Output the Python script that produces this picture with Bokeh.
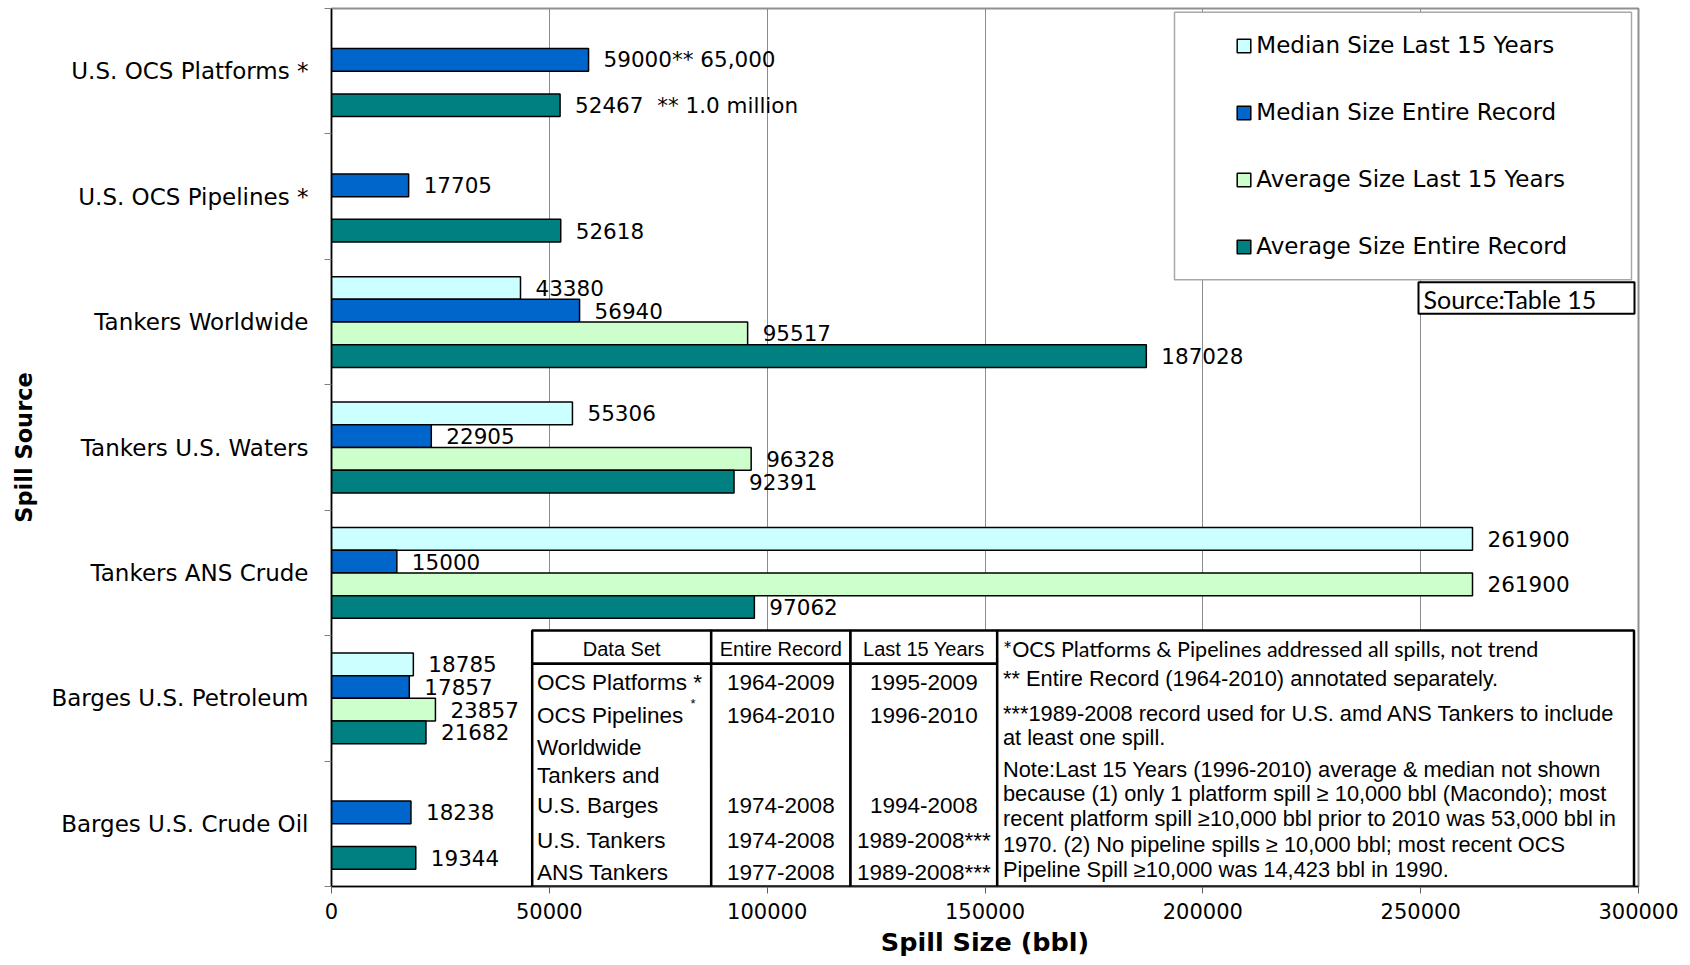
from bokeh.plotting import figure
from bokeh.models import (Range1d, FixedTicker, BasicTickFormatter, ColumnDataSource,
                          Legend, LegendItem, BoxAnnotation, Label)
from bokeh.transform import dodge
from bokeh.core.properties import value
from bokeh.embed import file_html
from bokeh.resources import INLINE

# ------------------------------------------------------------------ data
sources = ["U.S. OCS Platforms *", "U.S. OCS Pipelines *", "Tankers Worldwide",
           "Tankers U.S. Waters", "Tankers ANS Crude", "Barges U.S. Petroleum",
           "Barges U.S. Crude Oil"]
series_names = ["Median Size Last 15 Years", "Median Size Entire Record",
                "Average Size Last 15 Years", "Average Size Entire Record"]
median_last15 = [None, None, 43380, 55306, 261900, 18785, None]
median_entire = [59000, 17705, 56940, 22905, 15000, 17857, 18238]
average_last15 = [None, None, 95517, 96328, 261900, 23857, None]
average_entire = [52467, 52618, 187028, 92391, 97062, 21682, 19344]
# entire record (1964-2010) annotated separately
median_entire_notes = ["** 65,000", "", "", "", "", "", ""]
average_entire_notes = ["** 1.0 million", "", "", "", "", "", ""]
x_ticks = [0, 50000, 100000, 150000, 200000, 250000, 300000]

table_header = ["Data Set", "Entire Record", "Last 15 Years"]
table_dataset = ["OCS Platforms *", "OCS Pipelines", "Worldwide", "Tankers and",
                 "U.S. Barges", "U.S. Tankers", "ANS Tankers"]
table_entire = ["1964-2009", "1964-2010", "", "", "1974-2008", "1974-2008", "1977-2008"]
table_last15 = ["1995-2009", "1996-2010", "", "", "1994-2008", "1989-2008***", "1989-2008***"]
notes_lines = [
    "*OCS Platforms & Pipelines addressed all spills, not trend",
    "** Entire Record (1964-2010) annotated separately.",
    "***1989-2008 record used for U.S. amd ANS Tankers to include",
    "at least one spill.",
    "Note:Last 15 Years (1996-2010) average & median not shown",
    "because (1) only 1 platform spill \u2265 10,000 bbl (Macondo); most",
    "recent platform spill \u226510,000 bbl prior to 2010 was 53,000 bbl in",
    "1970. (2) No pipeline spills \u2265 10,000 bbl; most recent OCS",
    "Pipeline Spill \u226510,000 was 14,423 bbl in 1990.",
]
source_note = "Source:Table 15"

# ------------------------------------------------------------------ layout
FL, FT, FW, FH = 331, 8, 1307, 878
X0, Y0 = FL, FT
X1, Y1 = X0 + FW, Y0 + FH
XMAX = x_ticks[-1]
NC = len(sources)


def xd(px):
    return (px - X0) / FW * XMAX


def yd(py):
    return (Y1 - py) / FH * NC


SANS = "DejaVu Sans"
ARIAL = "Liberation Sans"
CAL = "Lato"

p = figure(frame_width=FW, frame_height=FH,
           x_range=Range1d(0, XMAX), y_range=Range1d(0, NC),
           min_border_left=FL, min_border_right=44, min_border_top=FT,
           min_border_bottom=78, output_backend="svg", toolbar_location=None,
           tools="")
p.outline_line_color = "#909090"
p.outline_line_width = 2
p.background_fill_color = "white"
p.border_fill_color = "white"

# axes
xa = p.xaxis[0]
xa.ticker = FixedTicker(ticks=x_ticks, minor_ticks=[])
xa.formatter = BasicTickFormatter(use_scientific=False)
xa.axis_line_color = "black"
xa.axis_line_width = 1.5
xa.major_tick_out = 7
xa.major_tick_in = 0
xa.major_tick_line_color = "#606060"
xa.minor_tick_line_color = None
xa.major_label_text_font = SANS
xa.major_label_text_font_size = "21px"
xa.major_label_text_color = "black"
xa.major_label_standoff = 9
xa.axis_label = "Spill Size (bbl)"
xa.axis_label_text_font = SANS
xa.axis_label_text_font_size = "25.5px"
xa.axis_label_text_font_style = "bold"
xa.axis_label_text_color = "black"
xa.axis_label_standoff = 5

y_centers = [NC - 0.5 - i for i in range(NC)]
ya = p.yaxis[0]
ya.ticker = FixedTicker(ticks=y_centers, minor_ticks=list(range(NC + 1)))
ya.major_label_overrides = {y: s for y, s in zip(y_centers, sources)}
ya.axis_line_color = "black"
ya.axis_line_width = 1.5
ya.major_tick_line_color = None
ya.major_tick_out = 0
ya.major_tick_in = 0
ya.minor_tick_line_color = "#808080"
ya.minor_tick_out = 7
ya.minor_tick_in = 0
ya.major_label_standoff = 16
ya.major_label_text_font = SANS
ya.major_label_text_font_size = "23px"
ya.major_label_text_color = "black"
ya.axis_label = "Spill Source"
ya.axis_label_text_font = SANS
ya.axis_label_text_font_size = "22.5px"
ya.axis_label_text_font_style = "bold"
ya.axis_label_text_color = "black"
ya.axis_label_standoff = 11

p.ygrid.visible = False
p.xgrid.grid_line_color = "#8C8C8C"
p.xgrid.grid_line_width = 1

# bars + value labels
series = [median_last15, median_entire, average_last15, average_entire]
series_notes = [[""] * NC, median_entire_notes, [""] * NC, average_entire_notes]
note_sep = ["", "", "", "\u00a0\u00a0"]
colors = ["#CCFFFF", "#0066CC", "#CCFFCC", "#008080"]
SLOT = 0.181
bar_renderers = []
for k, (vals, notes, col) in enumerate(zip(series, series_notes, colors)):
    off = (1.5 - k) * SLOT
    ys, xs, labels = [], [], []
    for yc, v, nt in zip(y_centers, vals, notes):
        if v is None:
            continue
        ys.append(yc)
        xs.append(v)
        lab = str(v)
        if nt:
            lab += note_sep[k] + nt.replace(" ", "\u00a0")
        labels.append(lab)
    src = ColumnDataSource(dict(y=ys, x=xs, label=labels))
    r = p.hbar(y=dodge("y", off, range=p.y_range), left=0, right="x", height=SLOT,
               fill_color=col, line_color="black", line_width=1.5, source=src)
    bar_renderers.append(r)
    p.text(x="x", y=dodge("y", off, range=p.y_range), text="label", source=src,
           x_offset=15, text_align="left", text_baseline="middle",
           text_font=value(SANS), text_font_size="21.5px", text_color="black")


def box(l, r, t, b, color="black", width=2.5):
    return BoxAnnotation(left=xd(l), right=xd(r), top=yd(t), bottom=yd(b),
                         fill_color="white", fill_alpha=1.0,
                         line_color=color, line_alpha=1.0, line_width=width)


# legend frame
p.add_layout(box(1174, 1631, 11.7, 279.3, color="#A8A8A8", width=1.5))
# source box
p.add_layout(box(1418, 1634, 281.7, 313.3, width=2))
p.add_layout(Label(x=xd(1423), y=yd(298), text=source_note, text_font=CAL,
                   text_font_size="25px", text_baseline="middle", text_align="left",
                   text_color="black"))

# data-set table
TX = [531.7, 710.7, 850, 996.7]
T_TOP, T_HEAD, T_BOT = 630, 663.3, 886
for i in range(3):
    for top, bot in ((T_TOP, T_HEAD), (T_HEAD, T_BOT)):
        p.add_layout(box(TX[i], TX[i + 1], top, bot))
# notes box
p.add_layout(box(996.7, 1633.5, T_TOP, T_BOT))

for i, h in enumerate(table_header):
    p.add_layout(Label(x=xd((TX[i] + TX[i + 1]) / 2), y=yd(648.5), text=h, text_font=ARIAL,
                       text_font_size="20px", text_align="center", text_baseline="middle",
                       text_color="black"))
ROW_Y = [681.7, 715, 746.7, 775, 805, 840, 871.7]
for ry, a, b, c in zip(ROW_Y, table_dataset, table_entire, table_last15):
    p.add_layout(Label(x=xd(536.5), y=yd(ry), text=a, text_font=ARIAL, text_font_size="22.5px",
                       text_align="left", text_baseline="middle", text_color="black"))
    if b:
        p.add_layout(Label(x=xd((TX[1] + TX[2]) / 2), y=yd(ry), text=b, text_font=ARIAL,
                           text_font_size="22.5px", text_align="center",
                           text_baseline="middle", text_color="black"))
    if c:
        p.add_layout(Label(x=xd((TX[2] + TX[3]) / 2), y=yd(ry), text=c, text_font=ARIAL,
                           text_font_size="22.5px", text_align="center",
                           text_baseline="middle", text_color="black"))
p.add_layout(Label(x=xd(690), y=yd(703), text="*", text_font=ARIAL, text_font_size="13px",
                   text_align="left", text_baseline="middle", text_color="black"))

NOTE_Y = [648, 678, 712.5, 737, 768.5, 793, 818, 844, 869]
for j, (ny, line) in enumerate(zip(NOTE_Y, notes_lines)):
    p.add_layout(Label(x=xd(1002.5), y=yd(ny), text=line,
                       text_font=CAL if j == 0 else ARIAL,
                       text_font_size="21.5px" if j == 0 else "21.8px",
                       text_align="left", text_baseline="middle", text_color="black"))

# legend
legend = Legend(items=[LegendItem(label=n, renderers=[r])
                       for n, r in zip(series_names, bar_renderers)],
                location=(1237 - 1.7 - X0, Y1 - 259), orientation="vertical",
                glyph_width=17, glyph_height=17, label_standoff=4, spacing=41,
                label_height=26, padding=0, margin=0, border_line_color=None,
                background_fill_alpha=0.0, label_text_font=SANS,
                label_text_font_size="23px", label_text_color="black")
p.add_layout(legend)

open("out.html", "w").write(file_html(p, INLINE, title="Spill Size by Source"))
